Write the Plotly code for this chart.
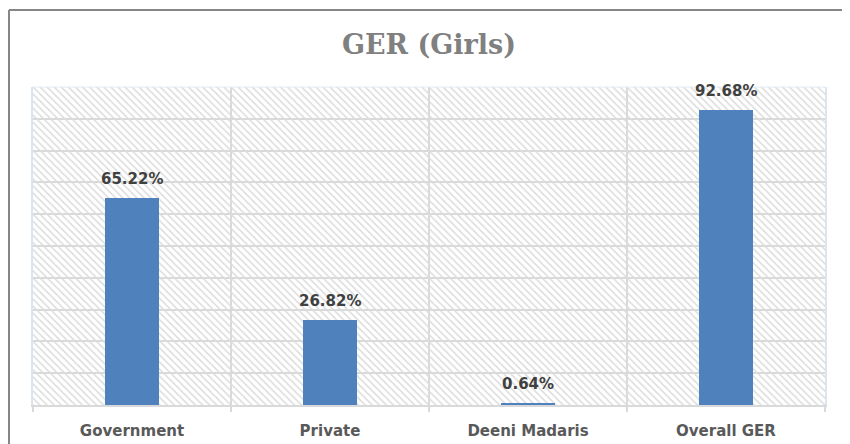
import plotly.graph_objects as go

categories = ["Government", "Private", "Deeni Madaris", "Overall GER"]
values = [65.22, 26.82, 0.64, 92.68]
value_labels = ["65.22%", "26.82%", "0.64%", "92.68%"]
title_text = "GER (Girls)"
y_max = 100
y_grid = list(range(0, 100, 10))

x_pos = list(range(len(categories)))

fig = go.Figure()

# hatched plot-area background (one full-width cell per category)
fig.add_trace(go.Bar(
    x=x_pos, y=[y_max] * len(categories), width=1,
    marker=dict(color="rgba(255,255,255,0)", line=dict(width=0),
                pattern=dict(shape="\\", size=5, solidity=0.3,
                             fgcolor="#dcdcdc", fgopacity=1)),
    hoverinfo="skip", showlegend=False,
))

fig.add_trace(go.Bar(
    x=x_pos, y=values, width=0.27,
    marker=dict(color="#4F81BD", line=dict(width=0)),
    showlegend=False,
))

for xi, v, t in zip(x_pos, values, value_labels):
    fig.add_annotation(x=xi, y=v, text=t, showarrow=False,
                       yanchor="bottom", yshift=8,
                       font=dict(family="DejaVu Sans", size=15, color="#404040", weight="bold"))

# page body has an 8px margin: figure coords = screen coords - 8
OFF = 8
W, H = 842, 436
L, T = 33 - OFF, 87 - OFF
R = W - (825 - OFF)
B = H - (405 - OFF)
pw, ph = W - L - R, H - T - B

def px_x(p):
    return (p - OFF - L) / pw

def px_y(p):
    return (H - B - (p - OFF)) / ph

shapes = [
    # outer chart border
    dict(type="line", xref="paper", yref="paper", x0=px_x(9), x1=px_x(848),
         y0=px_y(10), y1=px_y(10), line=dict(color="#868686", width=2)),
    dict(type="line", xref="paper", yref="paper", x0=px_x(9), x1=px_x(9),
         y0=px_y(10), y1=px_y(460), line=dict(color="#868686", width=2)),
    dict(type="line", xref="paper", yref="paper", x0=px_x(848), x1=px_x(848),
         y0=px_y(10), y1=px_y(460), line=dict(color="#e3e3e3", width=1)),
    # top edge of plot area
    dict(type="line", xref="paper", yref="paper", x0=0, x1=1, y0=1, y1=1,
         line=dict(color="#e4ecf7", width=1)),
]

fig.update_layout(
    width=W, height=H,
    margin=dict(l=L, r=R, t=T, b=B, autoexpand=False),
    paper_bgcolor="white", plot_bgcolor="white",
    barmode="overlay", bargap=0,
    shapes=shapes,
    title=dict(text=title_text, x=0.5, xref="paper", xanchor="center",
               y=1 - (45 - OFF) / H, yref="container", yanchor="middle",
               font=dict(family="DejaVu Serif", size=27, color="#808080", weight="bold")),
    xaxis=dict(
        range=[-0.5, len(categories) - 0.5],
        tickmode="array", tickvals=x_pos, ticktext=categories,
        ticks="", showgrid=False, zeroline=False, automargin=False,
        showline=True, linecolor="#d9d9d9", linewidth=2,
        tickfont=dict(family="DejaVu Sans", size=15, color="#595959", weight="bold"),
        minor=dict(tick0=-0.5, dtick=1, showgrid=True, gridcolor="#d9d9d9",
                   gridwidth=2, ticks="outside", ticklen=5, tickcolor="#d9d9d9", tickwidth=2),
        ticklabelstandoff=11,
    ),
    yaxis=dict(
        range=[0, y_max], tickmode="array", tickvals=y_grid,
        showticklabels=False, ticks="", automargin=False,
        showgrid=True, gridcolor="#d9d9d9", gridwidth=2,
        zeroline=False, showline=True, linecolor="#dbe5f1", linewidth=2, mirror=True,
    ),
)

fig.write_html("out.html")
